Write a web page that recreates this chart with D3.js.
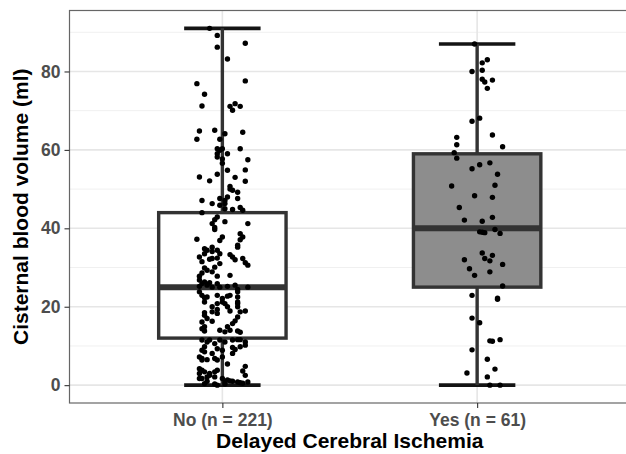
<!DOCTYPE html>
<html>
<head>
<meta charset="utf-8">
<script src="https://cdn.jsdelivr.net/npm/d3@7"></script>
<style>
  body { margin: 0; background: #fff; }
  svg { display: block; font-family: "Liberation Sans", Arial, sans-serif; }
</style>
</head>
<body>
<div id="chart"></div>
<script>
// groups and box statistics
var groups = ["No (n = 221)", "Yes (n = 61)"];
var boxMin = [0, 0];
var boxQ1 = [12, 25];
var boxMedian = [25, 40];
var boxQ3 = [44, 59];
var boxMax = [91, 87];
var boxFill = ["#ffffff", "#8d8d8d"];

var yTicks = [0, 20, 40, 60, 80];
var yMinor = [10, 30, 50, 70, 90];

// jittered points [jitter, value]
var pointsNo = [
  [-0.05, 91.0], [-0.02, 89.2], [0.09, 87.2], [-0.02, 86.2], [0.02, 83.2], [-0.10, 76.9], [0.09, 77.6],
  [-0.07, 74.2], [-0.08, 71.2], [0.03, 71.1], [0.05, 71.8], [0.07, 71.1], [0.04, 70.1], [-0.09, 64.8],
  [-0.03, 65.0], [0.08, 64.5], [-0.10, 62.7], [-0.01, 62.7], [0.01, 64.1], [-0.02, 60.3], [0.00, 60.3],
  [0.07, 60.3], [-0.02, 59.0], [-0.01, 59.9], [0.02, 59.0], [-0.02, 58.2], [0.00, 57.7], [0.00, 56.6],
  [0.10, 57.5], [0.02, 54.8], [0.09, 54.9], [-0.02, 53.8], [-0.09, 53.1], [-0.05, 52.1], [0.05, 53.0],
  [0.09, 52.0], [0.03, 50.7], [0.03, 50.0], [0.04, 49.7], [0.06, 49.2], [-0.08, 47.1], [-0.04, 46.3],
  [-0.01, 47.6], [0.01, 47.1], [0.02, 48.0], [0.01, 46.3], [-0.01, 45.9], [0.06, 47.6], [0.01, 45.0],
  [0.04, 44.8], [0.07, 45.3], [0.08, 44.6], [-0.08, 44.0], [-0.02, 42.9], [-0.03, 42.2], [0.01, 41.7],
  [0.10, 41.2], [-0.04, 41.2], [-0.03, 40.2], [-0.03, 39.7], [0.07, 38.6], [0.08, 37.8], [0.07, 37.1],
  [-0.10, 37.2], [0.00, 37.8], [-0.01, 36.9], [0.06, 35.7], [0.06, 35.2], [-0.07, 34.8], [-0.06, 34.4],
  [-0.04, 35.2], [-0.04, 34.1], [-0.02, 34.4], [-0.01, 33.5], [-0.09, 32.7], [-0.05, 32.1], [-0.02, 32.4],
  [0.03, 33.3], [0.04, 32.7], [0.05, 32.0], [0.08, 32.3], [0.09, 31.2], [-0.07, 29.9], [-0.03, 30.1],
  [-0.01, 31.0], [0.10, 30.6], [-0.08, 31.5], [-0.09, 27.8], [-0.08, 28.6], [-0.04, 28.9], [-0.02, 27.8],
  [0.03, 28.0], [-0.08, 25.9], [-0.06, 25.5], [-0.09, 25.2], [-0.05, 26.1], [-0.04, 25.0], [-0.01, 25.0],
  [0.02, 25.2], [0.05, 25.5], [0.06, 24.4], [0.10, 25.0], [-0.09, 23.8], [-0.08, 22.9], [-0.07, 22.3],
  [-0.06, 22.5], [-0.02, 22.9], [0.00, 22.1], [0.02, 22.7], [0.06, 23.8], [0.06, 22.5], [0.01, 20.8],
  [0.02, 20.0], [0.06, 20.8], [0.06, 20.0], [-0.04, 20.0], [-0.02, 19.3], [-0.04, 18.7], [0.03, 18.9],
  [0.07, 18.7], [0.09, 18.9], [-0.02, 18.3], [-0.07, 17.8], [-0.06, 17.0], [-0.08, 16.1], [-0.04, 16.3],
  [0.06, 17.4], [0.05, 16.4], [0.04, 15.7], [-0.08, 14.4], [-0.07, 13.8], [-0.01, 14.0], [0.01, 13.6],
  [0.02, 14.9], [0.03, 14.0], [0.06, 13.8], [0.07, 13.5], [-0.08, 11.5], [-0.06, 11.0], [-0.05, 11.5],
  [-0.01, 11.5], [0.01, 11.0], [0.04, 11.5], [0.06, 11.6], [0.07, 11.6], [0.09, 11.0], [0.09, 10.2],
  [-0.08, 8.9], [-0.07, 8.5], [-0.02, 9.3], [0.00, 8.9], [0.04, 9.6], [0.05, 9.1], [-0.09, 7.2],
  [-0.08, 6.8], [0.00, 7.2], [0.04, 8.1], [-0.08, 6.4], [-0.06, 6.5], [-0.02, 6.4], [0.02, 5.4],
  [0.09, 4.8], [0.08, 3.6], [-0.09, 4.2], [-0.08, 3.8], [-0.09, 3.0], [-0.07, 3.4], [-0.05, 2.5],
  [-0.02, 3.8], [-0.09, 1.7], [-0.08, 1.7], [-0.06, 2.1], [-0.03, 2.1], [0.00, 1.7], [0.02, 1.3],
  [0.03, 1.1], [0.06, 0.8], [0.10, 0.8], [0.07, 0.6], [-0.02, 0.0], [0.01, 0.3], [-0.03, 0.3],
  [-0.07, 0.4], [-0.07, 33.5], [-0.04, 32.3], [-0.06, 29.3], [-0.09, 26.8], [-0.07, 26.3], [-0.02, 25.9],
  [0.03, 22.9], [0.00, 21.2], [-0.02, 20.8], [-0.07, 21.2], [0.06, 21.2], [-0.07, 18.5], [-0.07, 14.9],
  [-0.07, 9.8], [-0.03, 10.6], [0.07, 9.8], [-0.04, 8.1], [-0.03, 6.8], [-0.05, 3.0], [-0.03, 3.4],
  [0.09, 2.5], [-0.06, 1.0], [0.01, 0.8], [0.04, 1.0], [0.08, 0.5]
];

var pointsYes = [
  [-0.01, 87.0], [0.04, 83.0], [0.02, 82.2], [-0.02, 80.0], [0.02, 80.3], [0.02, 78.0], [0.03, 77.3],
  [0.06, 77.8], [0.04, 75.7], [0.01, 68.1], [-0.02, 67.3], [-0.08, 63.2], [-0.08, 61.3], [0.06, 63.8],
  [0.10, 60.8], [-0.09, 59.3], [-0.08, 57.9], [-0.02, 55.2], [0.01, 56.2], [0.05, 56.7], [0.08, 53.8],
  [-0.10, 50.8], [0.07, 51.0], [-0.01, 48.3], [0.06, 47.9], [-0.07, 45.3], [-0.05, 42.1], [0.02, 41.8],
  [0.06, 42.8], [0.01, 39.1], [0.02, 39.0], [0.03, 38.9], [0.07, 39.7], [0.09, 38.7], [-0.05, 32.0],
  [0.02, 33.7], [0.03, 32.3], [0.05, 31.7], [0.06, 33.1], [0.10, 30.8], [-0.03, 29.7], [-0.01, 28.0],
  [0.05, 28.9], [0.10, 25.3], [-0.02, 22.9], [0.08, 22.2], [0.08, 21.9], [-0.02, 17.1], [0.01, 15.9],
  [0.05, 11.3], [0.06, 11.2], [0.09, 11.6], [-0.02, 9.0], [0.04, 6.6], [0.07, 4.1], [-0.04, 3.1],
  [0.04, 2.1], [0.05, 0.0], [0.09, 0.0]
];

var svgWidth = 626;
var svgHeight = 454;

// panel edges (right side runs off the picture)
var panel = { left: 69.5, right: 630, top: 10.5, bottom: 403 };

var svg = d3.select("#chart")
  .append("svg")
  .attr("width", svgWidth)
  .attr("height", svgHeight);

// scales: discrete positions 1 and 2 with ggplot style expansion
var xScale = d3.scaleLinear()
  .domain([0.4, 2.6])
  .range([panel.left, panel.right]);

var yScale = d3.scaleLinear()
  .domain([-4.55, 95.55])
  .range([panel.bottom, panel.top]);

// grid
var grid = svg.append("g");
grid.selectAll(".minor")
  .data(yMinor)
  .enter()
  .append("line")
  .attr("x1", panel.left).attr("x2", panel.right)
  .attr("y1", d => yScale(d)).attr("y2", d => yScale(d))
  .attr("stroke", "#f0f0f0")
  .attr("stroke-width", 1);
grid.selectAll(".major")
  .data(yTicks)
  .enter()
  .append("line")
  .attr("x1", panel.left).attr("x2", panel.right)
  .attr("y1", d => yScale(d)).attr("y2", d => yScale(d))
  .attr("stroke", "#e6e6e6")
  .attr("stroke-width", 1.6);
grid.selectAll(".vert")
  .data(groups)
  .enter()
  .append("line")
  .attr("x1", (d, i) => xScale(i + 1)).attr("x2", (d, i) => xScale(i + 1))
  .attr("y1", panel.top).attr("y2", panel.bottom)
  .attr("stroke", "#e6e6e6")
  .attr("stroke-width", 1.6);

// whisker caps
var boxes = svg.append("g");
groups.forEach(function(g, i) {
  var cx = i + 1;
  [boxMin[i], boxMax[i]].forEach(function(v) {
    boxes.append("line")
      .attr("x1", xScale(cx - 0.15)).attr("x2", xScale(cx + 0.15))
      .attr("y1", yScale(v)).attr("y2", yScale(v))
      .attr("stroke", "#141414")
      .attr("stroke-width", 3.6);
  });

  // whiskers
  boxes.append("line")
    .attr("x1", xScale(cx)).attr("x2", xScale(cx))
    .attr("y1", yScale(boxQ3[i])).attr("y2", yScale(boxMax[i]))
    .attr("stroke", "#333333")
    .attr("stroke-width", 3.4);
  boxes.append("line")
    .attr("x1", xScale(cx)).attr("x2", xScale(cx))
    .attr("y1", yScale(boxQ1[i])).attr("y2", yScale(boxMin[i]))
    .attr("stroke", "#333333")
    .attr("stroke-width", 3.4);

  // box
  boxes.append("rect")
    .attr("x", xScale(cx - 0.25))
    .attr("y", yScale(boxQ3[i]))
    .attr("width", xScale(cx + 0.25) - xScale(cx - 0.25))
    .attr("height", yScale(boxQ1[i]) - yScale(boxQ3[i]))
    .attr("fill", boxFill[i])
    .attr("stroke", "#333333")
    .attr("stroke-width", 3.4);

  // median
  boxes.append("line")
    .attr("x1", xScale(cx - 0.25)).attr("x2", xScale(cx + 0.25))
    .attr("y1", yScale(boxMedian[i])).attr("y2", yScale(boxMedian[i]))
    .attr("stroke", "#333333")
    .attr("stroke-width", 6);
});

// points
var pts = svg.append("g");
[pointsNo, pointsYes].forEach(function(arr, i) {
  pts.selectAll(".p" + i)
    .data(arr)
    .enter()
    .append("circle")
    .attr("cx", d => xScale(i + 1 + d[0]))
    .attr("cy", d => yScale(d[1]))
    .attr("r", 2.7)
    .attr("fill", "#000");
});

// panel border
svg.append("rect")
  .attr("x", panel.left)
  .attr("y", panel.top)
  .attr("width", panel.right - panel.left)
  .attr("height", panel.bottom - panel.top)
  .attr("fill", "none")
  .attr("stroke", "#666666")
  .attr("stroke-width", 1.2);

// axes
var leftAxis = d3.axisLeft(yScale)
  .tickValues(yTicks)
  .tickSize(5)
  .tickPadding(4);
var yAxis = svg.append("g")
  .attr("transform", `translate(${panel.left},0)`)
  .call(leftAxis);

var bottomAxis = d3.axisBottom(xScale)
  .tickValues([1, 2])
  .tickFormat((d, i) => groups[i])
  .tickSize(5)
  .tickPadding(6);
var xAxis = svg.append("g")
  .attr("transform", `translate(0,${panel.bottom})`)
  .call(bottomAxis);

[xAxis, yAxis].forEach(function(ax) {
  ax.attr("font-size", 17.5).attr("font-family", "Liberation Sans, Arial, sans-serif");
  ax.select(".domain").remove();
  ax.selectAll(".tick line").attr("stroke", "#333333").attr("stroke-width", 1.1);
  ax.selectAll(".tick text")
    .attr("fill", "#4d4d4d")
    .style("font-size", "17.5px")
    .style("font-weight", "bold");
});

// axis titles
svg.append("text")
  .attr("x", (panel.left + panel.right) / 2)
  .attr("y", 448)
  .attr("text-anchor", "middle")
  .style("font-size", "21px")
  .style("font-weight", "bold")
  .text("Delayed Cerebral Ischemia");

svg.append("text")
  .attr("transform", "rotate(-90)")
  .attr("x", -(panel.top + panel.bottom) / 2)
  .attr("y", 28)
  .attr("text-anchor", "middle")
  .style("font-size", "21px")
  .style("font-weight", "bold")
  .text("Cisternal blood volume (ml)");
</script>
</body>
</html>
